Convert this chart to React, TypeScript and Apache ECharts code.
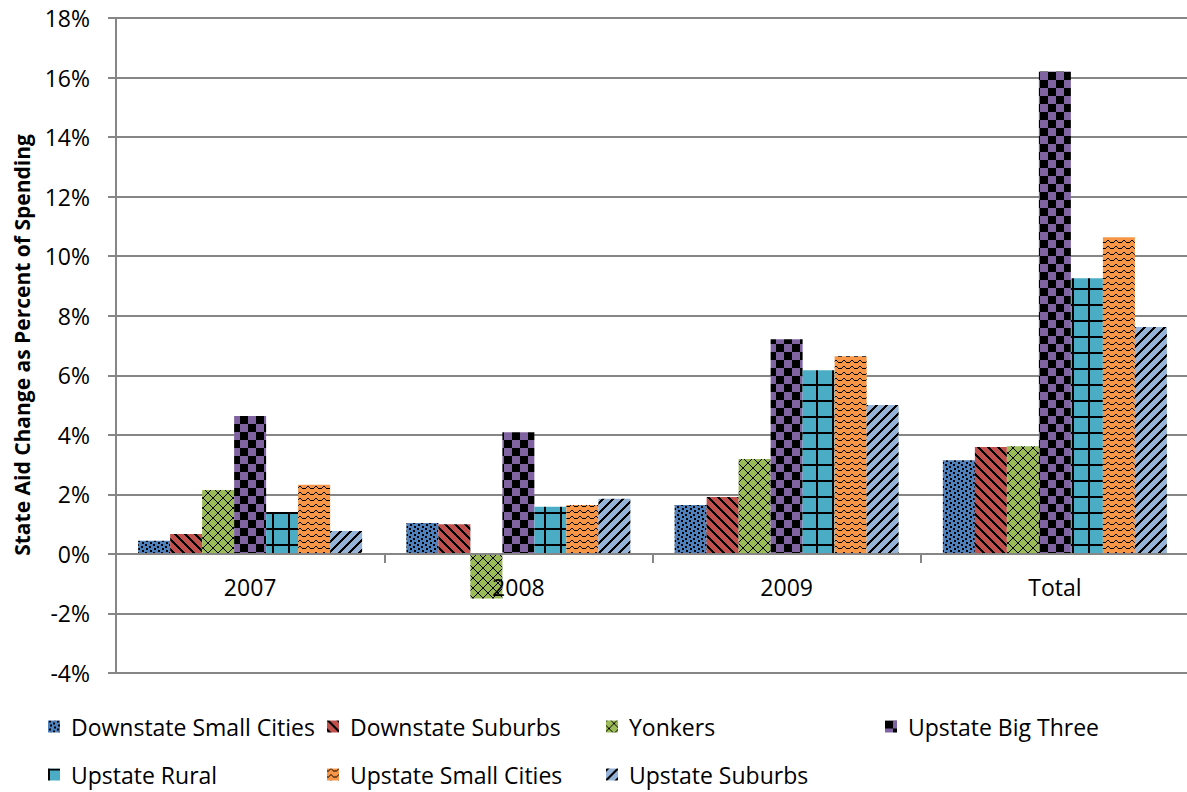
import React, { useEffect, useRef } from 'react';
import * as echarts from 'echarts';

const categories = ['2007', '2008', '2009', 'Total'];
const seriesNames = [
  'Downstate Small Cities',
  'Downstate Suburbs',
  'Yonkers',
  'Upstate Big Three',
  'Upstate Rural',
  'Upstate Small Cities',
  'Upstate Suburbs',
];
const downstateSmallCities = [0.44, 1.04, 1.64, 3.15];
const downstateSuburbs = [0.67, 1.0, 1.91, 3.59];
const yonkers = [2.15, -1.5, 3.19, 3.62];
const upstateBigThree = [4.63, 4.09, 7.21, 16.2];
const upstateRural = [1.41, 1.58, 6.17, 9.26];
const upstateSmallCities = [2.32, 1.64, 6.64, 10.64];
const upstateSuburbs = [0.77, 1.85, 5.0, 7.62];
const yMin = -4;
const yMax = 18;
const yStep = 2;
const yTitle = 'State Aid Change as Percent of Spending';

const seriesValues = [
  downstateSmallCities,
  downstateSuburbs,
  yonkers,
  upstateBigThree,
  upstateRural,
  upstateSmallCities,
  upstateSuburbs,
];

const FONT = '"Open Sans", "Noto Sans", sans-serif';
const GRID_TOP = 18;
const GRID_HEIGHT = 655;

function makeTile(w: number, h: number, bg: string, on: (x: number, y: number) => boolean) {
  const c = document.createElement('canvas');
  c.width = w;
  c.height = h;
  const ctx = c.getContext('2d')!;
  ctx.fillStyle = bg;
  ctx.fillRect(0, 0, w, h);
  ctx.fillStyle = '#000000';
  for (let y = 0; y < h; y++) {
    for (let x = 0; x < w; x++) {
      if (on(x, y)) ctx.fillRect(x, y, 1, 1);
    }
  }
  return { image: c, repeat: 'repeat', imageWidth: w, imageHeight: h } as any;
}

function buildPatterns() {
  const confettiSquares = [
    [1, 0],
    [5, 2],
    [2, 4],
    [6, 6],
  ];
  const confetti = makeTile(8, 8, '#4F81BD', (x, y) =>
    confettiSquares.some(([sx, sy]) => {
      const dx = (x - sx + 8) % 8;
      const dy = (y - sy + 8) % 8;
      return dx < 2 && dy < 2;
    })
  );
  const down = makeTile(10, 10, '#C0504D', (x, y) => ((x - y) % 10 + 10) % 10 < 3);
  const diamond = makeTile(10, 10, '#9BBB59', (x, y) => (x + y) % 10 === 0 || ((x - y) % 10 + 10) % 10 === 5);
  const checker = makeTile(16, 16, '#8064A2', (x, y) => (Math.floor(x / 8) + Math.floor(y / 8)) % 2 === 0);
  const grid = makeTile(16, 16, '#4BACC6', (x, y) => x % 16 < 2 || y % 16 < 2);
  const waveRows: Record<number, number[]> = { 0: [3, 4], 1: [2, 5], 2: [0, 1, 6, 7] };
  const wave = makeTile(8, 6, '#F79646', (x, y) => (waveRows[y] || []).includes(x));
  const up = makeTile(10, 10, '#95B3D7', (x, y) => (x + y) % 10 < 3);
  return [confetti, down, diamond, checker, grid, wave, up];
}

const legendPositions = [
  [48, 715],
  [327, 715],
  [606, 715],
  [885, 715],
  [48, 763],
  [327, 763],
  [606, 763],
];

export default function App() {
  const ref = useRef<HTMLDivElement>(null);
  useEffect(() => {
    document.body.style.margin = '0';
    if (!ref.current) return;
    const chart = echarts.init(ref.current, null, { renderer: 'svg' });
    const patterns = buildPatterns();
    const axisGray = '#868686';
    const zeroOffset = -((0 - yMin) / (yMax - yMin)) * GRID_HEIGHT;
    const option: any = {
      animation: false,
      backgroundColor: '#ffffff',
      grid: {
        left: 116,
        top: GRID_TOP,
        width: 1073,
        height: GRID_HEIGHT,
        containLabel: false,
        outerBoundsMode: 'none',
      },
      xAxis: {
        type: 'category',
        data: categories,
        z: 5,
        position: 'bottom',
        offset: zeroOffset,
        axisLine: { onZero: false, lineStyle: { color: axisGray, width: 2 } },
        axisTick: { show: true, length: 9, lineStyle: { color: axisGray, width: 2 } },
        axisLabel: { color: '#000', fontSize: 23, fontFamily: FONT, margin: 22 },
        splitLine: { show: false },
      },
      yAxis: {
        type: 'value',
        min: yMin,
        max: yMax,
        interval: yStep,
        axisLine: { show: true, lineStyle: { color: axisGray, width: 2 } },
        axisTick: { show: true, length: 8, lineStyle: { color: axisGray, width: 2 } },
        axisLabel: {
          color: '#000',
          fontSize: 23,
          fontFamily: FONT,
          margin: 26,
          formatter: '{value}%',
        },
        splitLine: { show: true, lineStyle: { color: axisGray, width: 2 } },
      },
      legend: seriesNames.map((name, i) => ({
        data: [name],
        left: legendPositions[i][0],
        top: legendPositions[i][1],
        padding: 0,
        itemWidth: 12,
        itemHeight: 12,
        icon: 'rect',
        selectedMode: false,
        formatter: '\u00a0{name}',
        textStyle: { color: '#000', fontSize: 23, fontFamily: FONT },
      })),
      graphic: [
        {
          type: 'text',
          x: 22,
          y: 345,
          rotation: Math.PI / 2,
          style: {
            text: yTitle,
            font: 'bold 21px ' + FONT,
            fill: '#000',
            align: 'center',
            verticalAlign: 'middle',
          },
        },
      ],
      series: seriesNames.map((name, i) => ({
        name,
        type: 'bar',
        data: seriesValues[i],
        barWidth: 32,
        barGap: '0%',
        itemStyle: { color: patterns[i] },
        emphasis: { disabled: true },
      })),
    };
    chart.setOption(option);
    return () => chart.dispose();
  }, []);
  return <div ref={ref} style={{ width: 1187, height: 792 }} />;
}
